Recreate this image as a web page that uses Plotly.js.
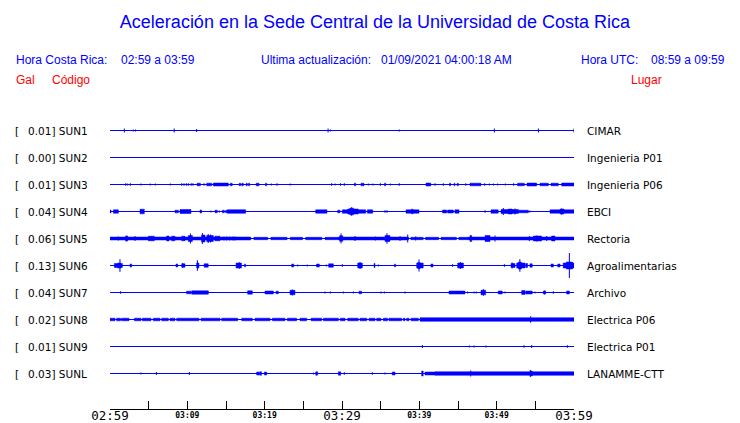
<!DOCTYPE html>
<html>
<head>
<meta charset="utf-8">
<script src="https://cdn.plot.ly/plotly-3.0.1.min.js"></script>
<style>html,body{margin:0;padding:0;background:#fff}#chart{width:740px;height:423px}</style>
</head>
<body>
<div id="chart"></div>
<script>
// ---- DATA ----
const stations = ['SUN1','SUN2','SUN3','SUN4','SUN5','SUN6','SUN7','SUN8','SUN9','SUNL'];
const peakGal  = ['0.01','0.00','0.01','0.04','0.06','0.13','0.04','0.02','0.01','0.03'];
const places   = ['CIMAR','Ingenieria P01','Ingenieria P06','EBCI','Rectoria','Agroalimentarias','Archivo','Electrica P06','Electrica P01','LANAMME-CTT'];

const windowMinutes = [0, 60];                       // 02:59 -> 03:59
const tickMinutes   = [0,5,10,15,20,25,30,35,40,45,50,55,60];
const bigTickVals   = [0,30,60];
const bigTickText   = ['02:59','03:29','03:59'];
const smallTickVals = [10,20,40,50];
const smallTickText = ['03:09','03:19','03:39','03:49'];

// Signal activity per station: [start minute, end minute, amplitude] (amplitude in 1/27 of trace spacing)
const sun1 = [[1.85,1.85,2],[3.0,3.0,1],[3.3,3.3,1],[8.3,8.3,2],[11.2,11.2,1.5],[28.2,28.2,2],[28.5,28.5,1],[37.4,37.4,1],[49.7,49.7,2],[55.4,55.4,2],[60,60,2]];
const sun2 = [];
const sun3 = [[2.03,2.03,1.3],[2.28,2.28,1],[2.63,2.63,1.3],[4.0,4.0,1],[5.2,5.2,1],[5.86,5.86,1],[7.8,7.8,1],[9.27,9.27,1.3],[9.57,9.57,1.3],[9.87,9.87,1.3],[10.13,10.13,1.3],[10.5,10.5,1.3],[10.73,10.73,1.3],[11.25,11.68,1.3],[12.16,12.16,1.3],[12.5,13.15,1.3],[13.36,15.3,1.5],[15.56,15.8,1.3],[16.7,16.9,1.3],[17.05,17.24,1.3],[17.6,17.75,1.3],[17.9,18.06,1.3],[18.9,19.27,1.3],[20.1,20.26,1.3],[20.86,20.86,1],[21.6,21.6,1.3],[23.3,23.3,1],[28.66,28.66,1.3],[29.1,29.1,1],[29.8,29.8,1.3],[30.3,30.3,1.3],[31.6,31.77,1.3],[32.46,32.84,1.3],[33.4,33.4,1],[34.0,34.0,1],[34.96,34.96,1.3],[35.5,35.65,1.3],[36.25,36.25,1],[37.4,37.4,1.3],[40.86,41.47,1.5],[42.03,42.03,1.3],[43.1,43.1,1.3],[43.9,44.05,1.3],[44.5,44.6,1.3],[44.9,45.04,1.3],[46.0,46.0,1.3],[46.55,47.97,1.3],[48.45,48.45,1.3],[49.05,49.05,1],[49.57,49.57,1],[50.13,50.13,1],[51.12,51.12,1],[52.2,52.2,1.3],[52.7,53.58,1.3],[53.92,55.17,1.5],[55.6,56.68,1.3],[57.03,57.97,1.3],[58.4,60,1.5]];
const sun4 = [[0,0.13,1.5],[0.43,1.08,1.7],[3.88,4.44,2.3],[8.4,8.84,1.3],[9.05,10.47,2],[11.64,11.85,1.5],[13.06,13.06,1],[13.58,13.88,1.3],[14.14,14.14,1],[14.53,14.78,1.3],[14.96,15.2,1.3],[15.2,17.54,1.8],[26.6,28.06,1.7],[29.44,29.74,1.3],[30.04,30.73,1.7],[30.73,32.1,2.5],[31.0,31.5,3.3],[31.25,31.25,4.3],[32.1,33.06,1.7],[33.28,33.97,1.7],[35.56,35.56,1.3],[35.82,35.82,1.3],[38.28,39.96,1.7],[39.0,39.2,2.3],[43.0,43.53,1.5],[43.66,44.4,1.5],[44.6,45.13,1.7],[48.5,48.5,1.3],[49.27,50.2,1.7],[50.56,52.8,2],[50.86,50.86,3.5],[51.5,52.0,2.5],[52.37,52.37,3],[52.8,54.1,1.3],[54.3,54.3,1],[56.9,60,1.7],[58.2,58.7,2.5],[58.4,58.4,3]];
const sun5 = [[0,18.2,1.5],[18.6,20.4,1.2],[20.8,22.9,1.2],[23.3,24.9,1.2],[25.3,27.4,1.2],[27.8,29.6,1.2],[29.6,38.6,1.5],[38.9,40.5,1.2],[40.8,42.5,1.2],[42.8,44.8,1.2],[45.1,46.4,1.2],[46.4,60,1.5],
  [1.08,1.08,2],[2.0,2.3,2.3],[2.16,2.16,3],[3.23,3.23,2.5],[4.96,5.73,2.3],[7.33,7.63,2.5],[7.97,8.4,2.3],[9.27,9.7,2.3],[10.13,10.65,3],[10.4,10.4,5],[11.85,12.28,3.5],[11.94,11.94,5.5],[12.5,13.36,3],[12.7,12.7,4.5],[13.0,13.0,4],[13.58,14.22,2.3],[14.74,14.74,2],[15.1,15.1,2],[15.5,15.5,2],[15.9,15.9,2],[16.16,16.16,2],[29.87,29.87,5],[29.7,30.1,2.8],[31.68,31.68,2.5],[34.35,34.35,2],[35.56,36.2,3],[35.82,35.82,5.3],[37.5,37.5,2.5],[38.5,38.5,4],[39.53,39.53,2],[46.55,46.77,3],[48.5,49.14,3],[49.78,49.78,3],[54.22,54.22,2.5],[54.74,55.82,2.5],[55.2,55.2,3],[56.47,56.47,2.5],[57.1,57.54,2.5]];
const sun6 = [[0.56,1.6,2],[1.0,1.4,2.5],[1.29,1.29,6.3],[2.59,2.8,1.5],[8.53,8.75,1.5],[9.27,9.7,1.7],[9.4,9.4,2.5],[11.2,11.5,2.5],[11.3,11.3,5.3],[12.16,12.7,1.7],[16.3,17.0,2.5],[16.72,16.72,3.3],[17.37,17.54,1.3],[23.5,23.75,1.5],[24.27,24.27,1],[25.5,25.5,1],[26.7,27.07,1.5],[27.97,27.97,1],[28.27,28.88,1.7],[30.04,30.04,1.3],[32.03,32.63,2.5],[32.33,32.33,3.5],[34.14,34.27,2],[34.7,34.7,1],[36.77,36.94,1.3],[39.66,40.5,2.5],[39.8,40.1,3],[39.96,39.96,6],[41.5,41.77,1.5],[44.3,44.3,1.3],[44.96,45.7,2.5],[45.3,45.3,3.5],[51.0,51.0,1.3],[51.85,52.37,2],[52.0,52.0,3],[52.59,53.66,2.5],[52.8,53.2,3.5],[53.0,53.0,6.3],[53.75,54.0,2],[54.3,54.6,1.7],[57.03,57.33,1.5],[57.9,58.2,1.5],[58.6,60,2.5],[59.0,59.8,3.5],[59.4,59.4,12.5]];
const sun7 = [[1.38,1.38,1.3],[9.9,10.47,1.3],[10.56,12.72,1.7],[17.8,18.4,1.7],[20.04,21.12,1.5],[21.47,21.77,1.3],[23.28,23.92,2.2],[23.58,23.58,3],[27.8,27.8,1],[28.5,28.5,1],[30.17,30.17,1],[31.47,31.47,1],[32.2,32.54,1.3],[35.04,35.04,1],[35.47,35.47,1],[38.15,38.15,1],[43.84,45.9,1.5],[46.25,46.25,1],[47.07,47.07,1],[47.37,47.37,1],[47.97,48.58,2.3],[48.28,48.28,3.3],[50.2,50.73,1.5],[51.08,51.08,1],[53.23,53.66,2],[53.75,54.6,1.5],[54.96,54.96,1],[56.03,56.34,1.5],[56.2,56.2,2],[57.33,57.33,1.3],[59.05,59.4,1.5]];
const sun8 = [[0,0.65,1.3],[0.86,1.38,1.3],[1.5,2.46,1.3],[3.15,4.0,1.3],[4.18,5.3,1.3],[5.6,6.47,1.3],[6.68,7.54,1.3],[7.76,8.4,1.3],[8.62,11.5,1.3],[11.77,14.22,1.3],[14.44,16.5,1.3],[17.03,18.4,1.3],[18.75,20.7,1.3],[21.0,22.63,1.3],[22.93,24.14,1.3],[24.57,25.43,1.3],[26.0,27.37,1.3],[27.6,29.53,1.3],[29.78,30.4,1.3],[30.73,32.1,1.3],[32.33,33.2,1.3],[33.5,34.27,1.3],[34.48,35.04,1.3],[35.34,35.9,1.3],[36.08,37.72,1.3],[37.93,38.15,1.3],[38.36,38.66,1.3],[38.92,39.87,1.3],[40.09,60,1.8],[54.4,54.4,3.3]];
const sun9 = [[40.39,40.39,1.5],[46.47,46.47,1],[47.07,47.07,1],[48.62,48.62,1],[53.53,53.53,1.3],[54.53,54.53,1.5],[59.14,59.14,1.3]];
const sunL = [[4.0,4.0,1],[6.0,6.0,1.5],[10.26,10.26,1.5],[18.97,19.27,1.5],[19.35,19.6,1.7],[19.96,20.26,1.5],[26.3,26.3,1],[26.6,26.85,1.7],[29.53,29.83,1.7],[30.3,30.3,1.3],[33.92,33.92,1.3],[35.56,35.56,1],[36.5,36.85,1.5],[40.3,40.5,2.5],[40.73,42.03,1.5],[42.03,60,1.8],[46.64,46.64,3],[54.35,54.6,2.5],[54.35,54.35,3.5]];
const activity = [sun1,sun2,sun3,sun4,sun5,sun6,sun7,sun8,sun9,sunL];

// ---- STYLE / LAYOUT ----
const BLUE = '#0000ff', RED = '#ff0000';
const W = 740, H = 423, ML = 110, MR = 166, MT = 103, MB = 14;
const PW = W - ML - MR, PH = H - MT - MB;
const rowPx = 27, row0Px = 130.5;
const ampScale = 1 / 27;
const yTop = (row0Px - MT) / rowPx;
const yBot = -(H - MB - row0Px) / rowPx;
const px2x = px => (px - ML) / PW;
const py2y = py => (H - MB - py) / PH;

const traces = [];
stations.forEach((s, i) => {
  const base = -i;
  traces.push({type:'scatter', mode:'lines', x:[windowMinutes[0], windowMinutes[1]], y:[base, base],
    line:{color:BLUE, width:1}, hoverinfo:'skip', showlegend:false});
  const rx = [], ry = [], sx = [], sy = [];
  activity[i].forEach(([t0, t1, a]) => {
    const h = a * ampScale;
    if (t1 > t0) {
      rx.push(t0, t1, t1, t0, t0, null);
      ry.push(base - h, base - h, base + h, base + h, base - h, null);
    } else {
      sx.push(t0, t0, null);
      sy.push(base - h, base + h, null);
    }
  });
  if (rx.length) traces.push({type:'scatter', mode:'lines', x:rx, y:ry, fill:'toself', fillcolor:BLUE,
    line:{color:BLUE, width:0.5}, hoverinfo:'skip', showlegend:false});
  if (sx.length) traces.push({type:'scatter', mode:'lines', x:sx, y:sy,
    line:{color:BLUE, width:1}, hoverinfo:'skip', showlegend:false});
});
// companion trace for the small-label axis
traces.push({type:'scatter', mode:'lines', x:[windowMinutes[0], windowMinutes[1]], y:[0, 0], xaxis:'x2',
  opacity:0, hoverinfo:'skip', showlegend:false});

const annotations = [];
const hdrFont = (c, sz) => ({family:'Liberation Sans, Arial, sans-serif', size:sz, color:c});
const addText = (text, px, py, font, anchor) => annotations.push({text, xref:'paper', yref:'paper',
  x:px2x(px), y:py2y(py), xanchor:anchor || 'left', yanchor:'middle', showarrow:false, font});

addText('Hora Costa Rica:', 14, 60, hdrFont(BLUE, 12));
addText('02:59 a 03:59', 119, 60, hdrFont(BLUE, 12));
addText('Ultima actualización:', 259, 60, hdrFont(BLUE, 12));
addText('01/09/2021 04:00:18 AM', 379, 60, hdrFont(BLUE, 12));
addText('Hora UTC:', 579, 60, hdrFont(BLUE, 12));
addText('08:59 a 09:59', 649, 60, hdrFont(BLUE, 12));
addText('Gal', 14, 80, hdrFont(RED, 12));
addText('Código', 50, 80, hdrFont(RED, 12));
addText('Lugar', 629, 80, hdrFont(RED, 12));

const rowFont = {family:'DejaVu Sans, sans-serif', size:10.5, color:'#000'};
stations.forEach((s, i) => {
  const py = row0Px + i * rowPx;
  addText('[', 13, py, rowFont);
  addText(peakGal[i] + '] ' + s, 26, py, rowFont);
  addText(places[i], 585, py, rowFont);
});

const layout = {
  width: W, height: H,
  margin: {l:ML, r:MR, t:MT, b:MB, pad:0},
  paper_bgcolor:'#fff', plot_bgcolor:'#fff',
  showlegend:false, hovermode:false,
  title: {text:'Aceleración en la Sede Central de la Universidad de Costa Rica',
    x: 375 / W, xanchor:'center', xref:'container', y: 1 - 22 / H, yanchor:'middle', yref:'container',
    font:{family:'Liberation Sans, Arial, sans-serif', size:18, color:BLUE}},
  xaxis: {range:windowMinutes, showgrid:false, zeroline:false, showline:true, linecolor:'#000', linewidth:1,
    ticks:'inside', ticklen:8, tickwidth:1, tickcolor:'#000',
    tickmode:'array', tickvals:tickMinutes,
    ticktext: tickMinutes.map(m => { const k = bigTickVals.indexOf(m); return k >= 0 ? bigTickText[k] : ''; }),
    tickfont:{family:'DejaVu Sans Mono, monospace', size:12.5, color:'#000'}, ticklabelstandoff:-5, fixedrange:true},
  xaxis2: {overlaying:'x', anchor:'y', side:'bottom', range:windowMinutes, showgrid:false, zeroline:false,
    showline:false, ticks:'', tickmode:'array', tickvals:smallTickVals, ticktext:smallTickText,
    tickfont:{family:'DejaVu Sans Mono, monospace', size:8, color:'#000', weight:'bold'}, fixedrange:true},
  yaxis: {range:[yBot, yTop], visible:false, fixedrange:true},
  annotations
};

Plotly.newPlot('chart', traces, layout, {staticPlot:true, displayModeBar:false});
</script>
</body>
</html>
